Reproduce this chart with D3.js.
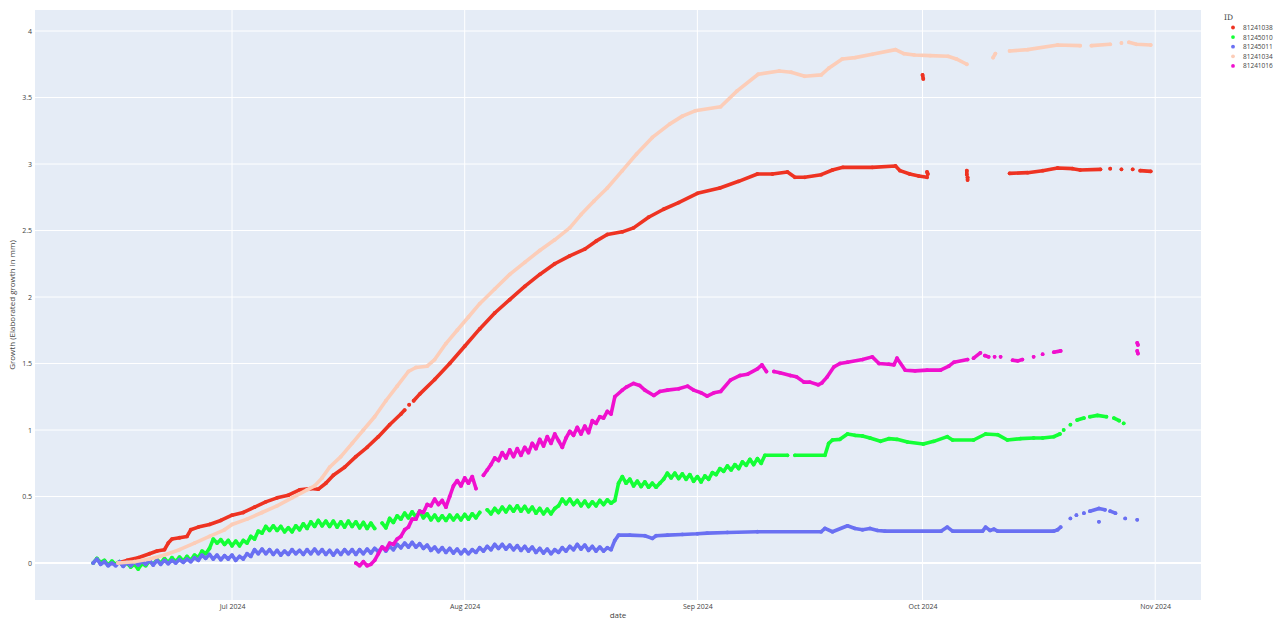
<!DOCTYPE html>
<html>
<head>
<meta charset="utf-8">
<script src="https://cdn.jsdelivr.net/npm/d3@7"></script>
<style>
body { margin: 0; background: #fff; }
text { font-family: "Open Sans", "Noto Sans", sans-serif; fill: #444; }
</style>
</head>
<body>
<script>
var ids = ["81241038", "81245010", "81245011", "81241034", "81241016"];
var colors = ["#EE3322", "#14FF36", "#6A70F2", "#FCCDB8", "#F010CE"];
var monthTicks = ["2024-07-01", "2024-08-01", "2024-09-01", "2024-10-01", "2024-11-01"];
var yTicks = [0, 0.5, 1, 1.5, 2, 2.5, 3, 3.5, 4];

// half-day readings, day offsets counted from Jul 1 2024
var blueZigStart = -18.5;
var blueZig = [
    0.00, 0.03, -0.01, 0.01, -0.02, 0.00, -0.02, 0.01, -0.025, 0.005,
    -0.02, 0.01, -0.015, 0.015, -0.01, 0.02, -0.015, 0.02, -0.01, 0.02,
    -0.005, 0.02, 0.0, 0.025, 0.005, 0.03, 0.01, 0.04, 0.02, 0.06,
    0.035, 0.065, 0.03, 0.06, 0.025, 0.055, 0.03, 0.06, 0.02, 0.05,
    0.03, 0.07, 0.05, 0.1, 0.07, 0.105, 0.07, 0.1, 0.065, 0.095,
    0.06, 0.09, 0.065, 0.1, 0.07, 0.095, 0.065, 0.1, 0.07, 0.105,
    0.07, 0.1, 0.065, 0.095, 0.06, 0.095, 0.065, 0.1, 0.07, 0.1,
    0.065, 0.1, 0.07, 0.105, 0.075, 0.11, 0.085, 0.12, 0.09, 0.125,
    0.1, 0.14, 0.115, 0.15, 0.12, 0.155, 0.12, 0.145, 0.11, 0.135,
    0.095, 0.12, 0.085, 0.115, 0.08, 0.11, 0.075, 0.105, 0.07, 0.1,
    0.07, 0.1, 0.08, 0.115, 0.09, 0.125, 0.1, 0.14, 0.11, 0.14,
    0.105, 0.135, 0.1, 0.13, 0.095, 0.125, 0.09, 0.12, 0.08, 0.11,
    0.075, 0.105, 0.07, 0.1, 0.08, 0.115, 0.09, 0.125, 0.1, 0.14,
    0.105, 0.135, 0.095, 0.125, 0.09, 0.12, 0.09, 0.115, 0.1
];
var blueTail = [
    [51, 0.17], [51.5, 0.21], [53, 0.21], [55, 0.205], [56, 0.185], [56.5, 0.205], [58, 0.21],
    [60, 0.215], [62, 0.22], [63.3, 0.225], [66, 0.23], [70, 0.235], [78.5, 0.235], [79, 0.26],
    [80, 0.235], [82, 0.28], [83, 0.26], [84, 0.25], [85, 0.26], [86, 0.245], [87, 0.24],
    [94.5, 0.24], [95.3, 0.27], [96, 0.24], [100, 0.24], [100.4, 0.27], [101, 0.245],
    [101.5, 0.255], [102, 0.24], [109.5, 0.24], [110, 0.25], [110.4, 0.27], null,
    [111.7, 0.335], null, [112.5, 0.36], null, [113.5, 0.375], null, [114.3, 0.39], [115.5, 0.41],
    [116.3, 0.4], null, [117, 0.39], [117.7, 0.375], null, [115.5, 0.31], null, [119, 0.335], null,
    [120.6, 0.325]
];

var greenZigStart = -18.5;
var greenZig = [
    0.0, 0.035, 0.005, 0.02, -0.015, 0.015, -0.01, 0.01, -0.02, 0.0,
    -0.03, -0.01, -0.045, -0.005, -0.02, 0.015, -0.01, 0.025, 0.0, 0.035,
    0.005, 0.04, 0.01, 0.045, 0.015, 0.05, 0.02, 0.06, 0.04, 0.09,
    0.07, 0.11, 0.18, 0.15, 0.175, 0.14, 0.17, 0.13, 0.165, 0.13,
    0.17, 0.15, 0.2, 0.18, 0.24, 0.225, 0.275, 0.245, 0.28, 0.245,
    0.275, 0.235, 0.265, 0.235, 0.28, 0.25, 0.295, 0.26, 0.31, 0.275,
    0.32, 0.28, 0.315, 0.275, 0.315, 0.27, 0.31, 0.27, 0.315, 0.275,
    0.31, 0.265, 0.305, 0.26, 0.3, 0.26, null, 0.3, 0.265, 0.335,
    0.305, 0.355, 0.33, 0.375, 0.34, 0.385, 0.345, 0.39, 0.34, 0.37,
    0.325, 0.36, 0.32, 0.355, 0.32, 0.36, 0.325, 0.36, 0.325, 0.365,
    0.33, 0.37, 0.34, 0.38, null, 0.4, 0.37, 0.41, 0.38, 0.42,
    0.385, 0.425, 0.39, 0.43, 0.39, 0.425, 0.385, 0.42, 0.375, 0.41,
    0.37, 0.405, 0.37, 0.41, 0.43, 0.48, 0.445, 0.48, 0.44, 0.47,
    0.43, 0.465, 0.425, 0.46, 0.43, 0.47, 0.44, 0.475, 0.45, 0.47,
    0.6, 0.65, 0.6, 0.63, 0.58, 0.615, 0.575, 0.61, 0.57, 0.6,
    0.57, 0.6, 0.63, 0.675, 0.64, 0.675, 0.635, 0.67, 0.63, 0.665,
    0.615, 0.65, 0.61, 0.655, 0.63, 0.68, 0.665, 0.71, 0.69, 0.73,
    0.7, 0.74, 0.71, 0.76, 0.735, 0.78, 0.74, 0.785
];
var greenTail = [
    [70.5, 0.75], [71, 0.81], [74, 0.81], null, [75, 0.81], [79, 0.81], [79.5, 0.9], [80, 0.925],
    [81, 0.93], [82, 0.97], [83, 0.96], [84, 0.955], [85, 0.94], [86.4, 0.915], [87.5, 0.935],
    [88.6, 0.93], [90, 0.91], [92.1, 0.895], [93.5, 0.915], [95.3, 0.95], [96, 0.925],
    [98.8, 0.925], [100.4, 0.97], [102, 0.965], [103.3, 0.925], [105, 0.935], [106.8, 0.94],
    [108, 0.94], [109.5, 0.95], [110.3, 0.97], null, [110.8, 1.0], null, [111.7, 1.04], null,
    [112.6, 1.075], [113.5, 1.09], null, [114.3, 1.1], [115.3, 1.11], [116.5, 1.1], null,
    [117.5, 1.09], [118.2, 1.07], null, [118.8, 1.05]
];

var magentaZigStart = 16.5;
var magentaZig = [
    0.0, -0.02, 0.01, -0.02, -0.01, 0.02, 0.07, 0.12, 0.1, 0.15,
    0.14, 0.18, 0.2, 0.25, 0.27, 0.33, 0.33, 0.39, 0.38, 0.44,
    0.43, 0.48, 0.44, 0.47, 0.42, 0.5, 0.58, 0.62, 0.58, 0.64,
    0.6, 0.65, 0.56, null, 0.66, 0.7, 0.74, 0.79, 0.77, 0.83,
    0.79, 0.85, 0.8, 0.86, 0.81, 0.87, 0.83, 0.9, 0.86, 0.93,
    0.88, 0.95, 0.9, 0.97, 0.92, 0.87, 0.94, 0.99, 0.96, 1.02,
    0.97, 1.03, 0.98, 1.07, 1.05, 1.1, 1.09, 1.14, 1.12
];
var magentaTail = [
    [51, 1.25], [52, 1.3], [52.6, 1.325], [53.5, 1.35], [54.3, 1.335], [55, 1.3], [56.2, 1.26],
    [57, 1.29], [58, 1.3], [59.5, 1.31], [60.7, 1.33], [61.5, 1.3], [62.5, 1.28], [63.3, 1.255],
    [64.2, 1.28], [65.1, 1.29], [66.4, 1.375], [67.7, 1.41], [68.7, 1.42], [70, 1.46],
    [70.6, 1.49], [71.2, 1.44], null, [72.2, 1.44], [73, 1.43], [74.4, 1.41], [75.2, 1.4],
    [76.2, 1.36], [77, 1.36], [78.1, 1.34], [78.6, 1.355], [79.3, 1.4], [80.2, 1.475],
    [81, 1.5], [82, 1.51], [84, 1.53], [85.3, 1.55], [86.2, 1.5], [87.5, 1.495], [88.2, 1.49],
    [88.6, 1.54], [89.7, 1.45], [91, 1.445], [92.6, 1.45], [94.4, 1.45], [95.5, 1.48],
    [96.2, 1.51], [98, 1.53], null, [98.8, 1.54], [99.7, 1.58], null, [100.3, 1.56],
    [100.8, 1.55], null, [101.6, 1.55], null, [102.4, 1.55], null, [104, 1.525], [104.7, 1.52],
    [105.3, 1.53], null, [106.8, 1.55], null, [108, 1.57], null, [109.5, 1.585], [110.4, 1.595],
    null, [120.6, 1.655], [120.7, 1.64], null, [120.6, 1.595], [120.7, 1.575]
];

var redPoints = [
    [-15.2, 0.0], [-14, 0.02], [-12.5, 0.04], [-11, 0.07], [-10, 0.09], [-9, 0.1], [-8.5, 0.15],
    [-8, 0.18], [-7, 0.19], [-6, 0.2], [-5.5, 0.25], [-4.5, 0.27], [-3, 0.29], [-1.5, 0.32],
    [0, 0.36], [1.5, 0.38], [3, 0.42], [4.5, 0.46], [6, 0.49], [7.5, 0.51], [9, 0.55],
    [10.5, 0.56], [11.5, 0.555], [12.5, 0.6], [13.5, 0.66], [15, 0.72], [16.5, 0.8], [18, 0.87],
    [19.5, 0.95], [21, 1.04], [22.5, 1.12], [23, 1.15], null, [23.6, 1.19], null, [24.2, 1.22],
    [25, 1.27], [27, 1.38], [29, 1.5], [31, 1.63], [33, 1.76], [35, 1.88], [37, 1.98],
    [39, 2.08], [41, 2.17], [43, 2.25], [45, 2.31], [47, 2.36], [48.5, 2.42], [50, 2.47],
    [52, 2.49], [53.5, 2.52], [55.5, 2.6], [57.5, 2.66], [59.5, 2.71], [62, 2.78], [65, 2.82],
    [67.5, 2.87], [70, 2.925], [72, 2.925], [74, 2.94], [75, 2.9], [76.3, 2.9], [78.5, 2.92],
    [80, 2.955], [81.4, 2.975], [85.3, 2.975], [88.4, 2.985], [89, 2.95], [90.3, 2.925],
    [91.5, 2.91], [92.6, 2.9], null, [92.6, 2.94], [92.7, 2.925], null, [92, 3.67], [92.1, 3.64],
    null, [97.9, 2.95], [97.9, 2.92], null, [98, 2.88], [98, 2.9], null, [103.6, 2.93],
    [106, 2.935], [108, 2.95], [110, 2.97], [112, 2.965], [113, 2.955], [115.7, 2.96], null,
    [117, 2.965], null, [118.5, 2.96], null, [120, 2.96], null, [121, 2.95], [122.4, 2.945]
];

var peachPoints = [
    [-15.2, 0.0], [-13, 0.01], [-11, 0.03], [-9, 0.06], [-7, 0.1], [-5, 0.15], [-3, 0.2],
    [-1, 0.25], [0, 0.29], [2, 0.33], [4, 0.38], [6, 0.43], [8, 0.49], [10, 0.55], [11, 0.58],
    [12, 0.64], [13, 0.72], [14.5, 0.8], [16, 0.9], [17.5, 1.0], [19, 1.1], [20.5, 1.22],
    [22, 1.33], [23.5, 1.44], [24.5, 1.47], [26, 1.48], [27, 1.53], [28.5, 1.65], [30, 1.75],
    [31.5, 1.85], [33, 1.95], [35, 2.06], [37, 2.17], [39, 2.26], [41, 2.35], [43, 2.43],
    [45, 2.52], [46.5, 2.62], [48.2, 2.72], [50, 2.82], [52, 2.95], [53.9, 3.075], [56, 3.2],
    [58.3, 3.3], [60, 3.36], [61.7, 3.4], [65.1, 3.43], [67.3, 3.55], [70.1, 3.675], [72.9, 3.7],
    [74.5, 3.69], [76.3, 3.66], [78.5, 3.67], [79.5, 3.72], [81.3, 3.79], [83, 3.8],
    [85.3, 3.825], [88.4, 3.86], [89.5, 3.83], [90.9, 3.82], [93, 3.815], [95.4, 3.81],
    [96.5, 3.79], [97.9, 3.75], null, [101.4, 3.8], [101.7, 3.83], null, [103.6, 3.85],
    [106, 3.86], [110, 3.895], [113, 3.89], null, [114.5, 3.89], [117, 3.9], null,
    [118.5, 3.91], null, [119.5, 3.915], [120.5, 3.9], [122.4, 3.895]
];

var JUL1 = Date.UTC(2024, 6, 1);
function toDate(day) { return new Date(JUL1 + day * 864e5); }
function fromSteps(start, values) {
    return values.map(function (v, i) {
        return v === null ? null : { date: toDate(start + i * 0.5), value: v };
    });
}
function fromPairs(pairs) {
    return pairs.map(function (p) {
        return p === null ? null : { date: toDate(p[0]), value: p[1] };
    });
}

var series = [
    fromPairs(redPoints),
    fromSteps(greenZigStart, greenZig).concat(fromPairs(greenTail)),
    fromSteps(blueZigStart, blueZig).concat(fromPairs(blueTail)),
    fromPairs(peachPoints),
    fromSteps(magentaZigStart, magentaZig).concat(fromPairs(magentaTail))
];

var width = 1283, height = 619;
var plotLeft = 35, plotRight = 1201, plotTop = 10, plotBottom = 600;

var x = d3.scaleUtc()
    .domain([toDate(-26.25), toDate(129.1)])
    .range([plotLeft, plotRight]);
var y = d3.scaleLinear()
    .domain([-0.278, 4.158])
    .range([plotBottom, plotTop]);

var svg = d3.select("body").append("svg")
    .attr("width", width)
    .attr("height", height);

svg.append("rect")
    .attr("x", plotLeft).attr("y", plotTop)
    .attr("width", plotRight - plotLeft).attr("height", plotBottom - plotTop)
    .attr("fill", "#E5ECF6");

var tickDates = monthTicks.map(function (s) { return new Date(s + "T00:00:00Z"); });
var fmt = d3.utcFormat("%b %Y");

// grid
svg.append("g").selectAll("line.vgrid")
    .data(tickDates)
    .enter().append("line")
    .attr("x1", function (d) { return x(d); }).attr("x2", function (d) { return x(d); })
    .attr("y1", plotTop).attr("y2", plotBottom)
    .attr("stroke", "#fff").attr("stroke-width", 1);
svg.append("g").selectAll("line.hgrid")
    .data(yTicks)
    .enter().append("line")
    .attr("x1", plotLeft).attr("x2", plotRight)
    .attr("y1", function (d) { return y(d); }).attr("y2", function (d) { return y(d); })
    .attr("stroke", "#fff").attr("stroke-width", function (d) { return d === 0 ? 2 : 1; });

// axes (labels only, plotly style)
var xAxis = d3.axisBottom(x).tickValues(tickDates).tickFormat(fmt).tickSize(0).tickPadding(4);
var gx = svg.append("g").attr("transform", "translate(0," + plotBottom + ")").call(xAxis);
gx.select(".domain").remove();
gx.selectAll("text").style("font-size", "7px").attr("fill", "#444");

var yAxis = d3.axisLeft(y).tickValues(yTicks).tickFormat(d3.format("")).tickSize(0).tickPadding(3);
var gy = svg.append("g").attr("transform", "translate(" + plotLeft + ",0)").call(yAxis);
gy.select(".domain").remove();
gy.selectAll("text").style("font-size", "7px").attr("fill", "#444");

svg.append("text")
    .attr("x", (plotLeft + plotRight) / 2).attr("y", 618)
    .attr("text-anchor", "middle")
    .style("font-size", "8px")
    .text("date");
svg.append("text")
    .attr("transform", "translate(15," + ((plotTop + plotBottom) / 2) + ") rotate(-90)")
    .attr("text-anchor", "middle")
    .style("font-size", "8px")
    .text("Growth (Elaborated growth in mm)");

// traces
var line = d3.line()
    .defined(function (d) { return d !== null; })
    .x(function (d) { return x(d.date); })
    .y(function (d) { return y(d.value); });

var traces = svg.append("g");
series.forEach(function (pts, i) {
    var g = traces.append("g");
    g.append("path")
        .attr("d", line(pts))
        .attr("fill", "none")
        .attr("stroke", colors[i])
        .attr("stroke-width", 3.6)
        .attr("stroke-linejoin", "round")
        .attr("stroke-linecap", "round");
    g.selectAll("circle")
        .data(pts.filter(function (d) { return d !== null; }))
        .enter().append("circle")
        .attr("cx", function (d) { return x(d.date); })
        .attr("cy", function (d) { return y(d.value); })
        .attr("r", 1.9)
        .attr("fill", colors[i]);
});

// legend
var legend = svg.append("g").attr("transform", "translate(1224,0)");
legend.append("text")
    .attr("x", 0).attr("y", 20)
    .style("font-size", "7.5px")
    .style("font-family", "'DejaVu Serif', serif")
    .text("ID");
ids.forEach(function (id, i) {
    var yy = 27.5 + i * 9.6;
    legend.append("circle")
        .attr("cx", 9).attr("cy", yy)
        .attr("r", 1.9)
        .attr("fill", colors[i]);
    legend.append("text")
        .attr("x", 19).attr("y", yy + 2.4)
        .style("font-size", "6.5px")
        .text(id);
});
</script>
</body>
</html>
